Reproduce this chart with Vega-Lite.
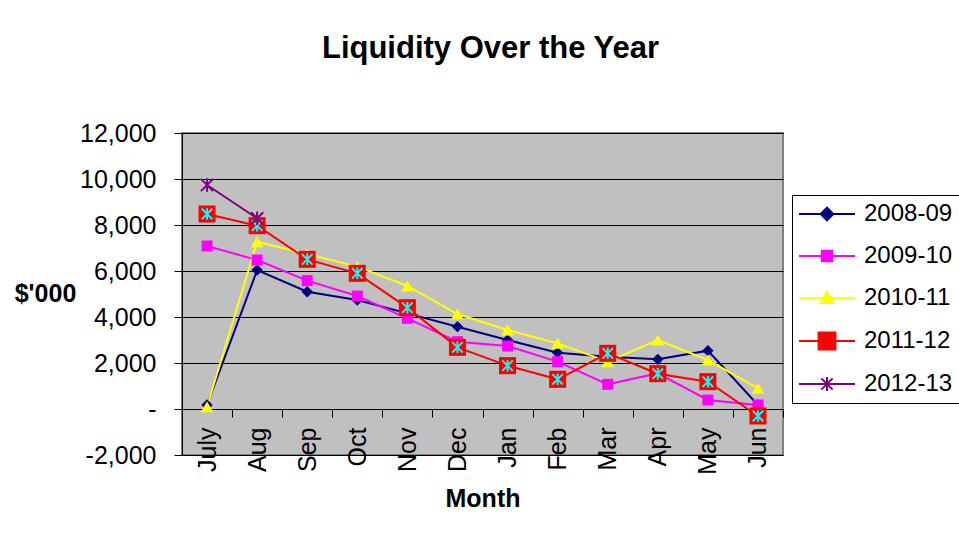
{
  "$schema": "https://vega.github.io/schema/vega-lite/v6.json",
  "width": 601,
  "height": 322,
  "autosize": {"type": "none"},
  "padding": {"left": 182, "top": 133, "right": 176, "bottom": 81},
  "background": "white",
  "config": {
    "font": "Liberation Sans",
    "view": {"fill": "#C0C0C0", "stroke": "#808080", "strokeWidth": 2}
  },
  "title": {
    "text": "Liquidity Over the Year",
    "fontSize": 31,
    "fontWeight": "bold",
    "color": "black",
    "anchor": "middle",
    "frame": "group",
    "baseline": "alphabetic",
    "offset": 32,
    "dx": 8
  },
  "data": {
    "values": [
      {"month": "July", "series": "2008-09", "value": 174},
      {"month": "Aug", "series": "2008-09", "value": 6043},
      {"month": "Sep", "series": "2008-09", "value": 5101},
      {"month": "Oct", "series": "2008-09", "value": 4739},
      {"month": "Nov", "series": "2008-09", "value": 4159},
      {"month": "Dec", "series": "2008-09", "value": 3580},
      {"month": "Jan", "series": "2008-09", "value": 3000},
      {"month": "Feb", "series": "2008-09", "value": 2449},
      {"month": "Mar", "series": "2008-09", "value": 2275},
      {"month": "Apr", "series": "2008-09", "value": 2159},
      {"month": "May", "series": "2008-09", "value": 2536},
      {"month": "Jun", "series": "2008-09", "value": 174},
      {"month": "July", "series": "2009-10", "value": 7087},
      {"month": "Aug", "series": "2009-10", "value": 6478},
      {"month": "Sep", "series": "2009-10", "value": 5580},
      {"month": "Oct", "series": "2009-10", "value": 4913},
      {"month": "Nov", "series": "2009-10", "value": 3942},
      {"month": "Dec", "series": "2009-10", "value": 2928},
      {"month": "Jan", "series": "2009-10", "value": 2739},
      {"month": "Feb", "series": "2009-10", "value": 2058},
      {"month": "Mar", "series": "2009-10", "value": 1072},
      {"month": "Apr", "series": "2009-10", "value": 1551},
      {"month": "May", "series": "2009-10", "value": 391},
      {"month": "Jun", "series": "2009-10", "value": 174},
      {"month": "July", "series": "2010-11", "value": 101},
      {"month": "Aug", "series": "2010-11", "value": 7275},
      {"month": "Sep", "series": "2010-11", "value": 6740},
      {"month": "Oct", "series": "2010-11", "value": 6190},
      {"month": "Nov", "series": "2010-11", "value": 5348},
      {"month": "Dec", "series": "2010-11", "value": 4130},
      {"month": "Jan", "series": "2010-11", "value": 3435},
      {"month": "Feb", "series": "2010-11", "value": 2855},
      {"month": "Mar", "series": "2010-11", "value": 2058},
      {"month": "Apr", "series": "2010-11", "value": 3000},
      {"month": "May", "series": "2010-11", "value": 2130},
      {"month": "Jun", "series": "2010-11", "value": 899},
      {"month": "July", "series": "2011-12", "value": 8478},
      {"month": "Aug", "series": "2011-12", "value": 7971},
      {"month": "Sep", "series": "2011-12", "value": 6507},
      {"month": "Oct", "series": "2011-12", "value": 5899},
      {"month": "Nov", "series": "2011-12", "value": 4406},
      {"month": "Dec", "series": "2011-12", "value": 2681},
      {"month": "Jan", "series": "2011-12", "value": 1884},
      {"month": "Feb", "series": "2011-12", "value": 1290},
      {"month": "Mar", "series": "2011-12", "value": 2420},
      {"month": "Apr", "series": "2011-12", "value": 1536},
      {"month": "May", "series": "2011-12", "value": 1188},
      {"month": "Jun", "series": "2011-12", "value": -304},
      {"month": "July", "series": "2012-13", "value": 9739},
      {"month": "Aug", "series": "2012-13", "value": 8290}
    ]
  },
  "encoding": {
    "x": {
      "field": "month",
      "type": "nominal",
      "sort": ["July", "Aug", "Sep", "Oct", "Nov", "Dec", "Jan", "Feb", "Mar", "Apr", "May", "Jun"],
      "scale": {"type": "band", "paddingInner": 0, "paddingOuter": 0},
      "axis": {
        "title": "Month",
        "offset": -46,
        "labelAngle": -90,
        "labelAlign": "right",
        "labelBaseline": "middle",
        "labelFontSize": 25,
        "labelColor": "black",
        "labelPadding": 10,
        "tickSize": 8,
        "tickBand": "extent",
        "tickColor": "black",
        "domainColor": "black",
        "titleFontSize": 25,
        "titleFontWeight": "bold",
        "titleColor": "black",
        "titlePadding": 12,
        "grid": false
      }
    },
    "y": {
      "field": "value",
      "type": "quantitative",
      "scale": {"domain": [-2000, 12000], "nice": false, "zero": false},
      "axis": {
        "title": "$'000",
        "titleAngle": 0,
        "titleX": -137,
        "titleY": 160,
        "titleAlign": "center",
        "titleBaseline": "middle",
        "titleFontSize": 25,
        "titleFontWeight": "bold",
        "titleColor": "black",
        "values": [-2000, 0, 2000, 4000, 6000, 8000, 10000, 12000],
        "labelExpr": "datum.value === 0 ? '-\u00a0\u00a0\u00a0\u00a0' : (datum.value < 0 ? '-' + format(-datum.value, ',') : format(datum.value, ','))",
        "labelFontSize": 25,
        "labelColor": "black",
        "labelPadding": 18,
        "tickSize": 8,
        "tickColor": "black",
        "domainColor": "black",
        "gridColor": "black",
        "gridOpacity": 1,
        "gridWidth": 1
      }
    }
  },
  "layer": [
    {
      "mark": {"type": "line", "strokeWidth": 2},
      "encoding": {
        "color": {
          "field": "series",
          "type": "nominal",
          "scale": {
            "domain": ["2008-09", "2009-10", "2010-11", "2011-12", "2012-13"],
            "range": ["#000080", "#FF00FF", "#FFFF00", "#FF0000", "#800080"]
          },
          "legend": {
            "title": null,
            "orient": "none",
            "legendX": 610,
            "legendY": 62,
            "strokeColor": "black",
            "fillColor": "white",
            "padding": 7,
            "labelFontSize": 24,
            "labelColor": "black",
            "labelOffset": 25,
            "symbolOffset": 16,
            "rowPadding": 18,
            "symbolSize": 196,
            "symbolStrokeWidth": 2,
            "encode": {
              "symbols": {
                "update": {
                  "shape": {"signal": "datum.value === '2008-09' ? 'M-4,0L4,0M0,-0.9L0.9,0L0,0.9L-0.9,0Z' : datum.value === '2009-10' ? 'M-4,0L4,0M-0.75,-0.75L0.75,-0.75L0.75,0.75L-0.75,0.75Z' : datum.value === '2010-11' ? 'M-4,0L4,0M0,-0.9L0.9,0.7L-0.9,0.7Z' : datum.value === '2011-12' ? 'M-4,0L4,0M-1.2,-1.2L1.2,-1.2L1.2,1.2L-1.2,1.2Z' : 'M-4,0L4,0M-0.8,-0.8L0.8,0.8M-0.8,0.8L0.8,-0.8M0,-1L0,1'"},
                  "fill": {"scale": "color", "field": "value"},
                  "stroke": {"scale": "color", "field": "value"},
                  "strokeWidth": {"value": 2},
                  "opacity": {"value": 1}
                }
              }
            }
          }
        }
      }
    },
    {
      "transform": [{"filter": "datum.series === '2008-09'"}],
      "mark": {"type": "point", "shape": "diamond", "filled": true, "size": 130, "color": "#000080", "opacity": 1},
      "encoding": {}
    },
    {
      "transform": [{"filter": "datum.series === '2009-10'"}],
      "mark": {"type": "point", "shape": "square", "filled": true, "size": 120, "color": "#FF00FF", "opacity": 1},
      "encoding": {}
    },
    {
      "transform": [{"filter": "datum.series === '2010-11'"}],
      "mark": {"type": "point", "shape": "triangle-up", "filled": true, "size": 160, "color": "#FFFF00", "opacity": 1},
      "encoding": {}
    },
    {
      "transform": [{"filter": "datum.series === '2011-12'"}],
      "mark": {"type": "point", "shape": "square", "filled": true, "size": 290, "color": "#FF0000", "opacity": 1},
      "encoding": {}
    },
    {
      "transform": [{"filter": "datum.series === '2011-12'"}],
      "mark": {"type": "point", "filled": false, "shape": "M-1,-1L1,1M-1,1L1,-1M0,-1.1L0,1.1", "size": 110, "stroke": "#00FFFF", "strokeWidth": 2, "opacity": 1},
      "encoding": {}
    },
    {
      "transform": [{"filter": "datum.series === '2012-13'"}],
      "mark": {"type": "point", "filled": false, "shape": "M-1,-1L1,1M-1,1L1,-1M0,-1.1L0,1.1", "size": 150, "stroke": "#800080", "strokeWidth": 2, "opacity": 1},
      "encoding": {}
    }
  ]
}
